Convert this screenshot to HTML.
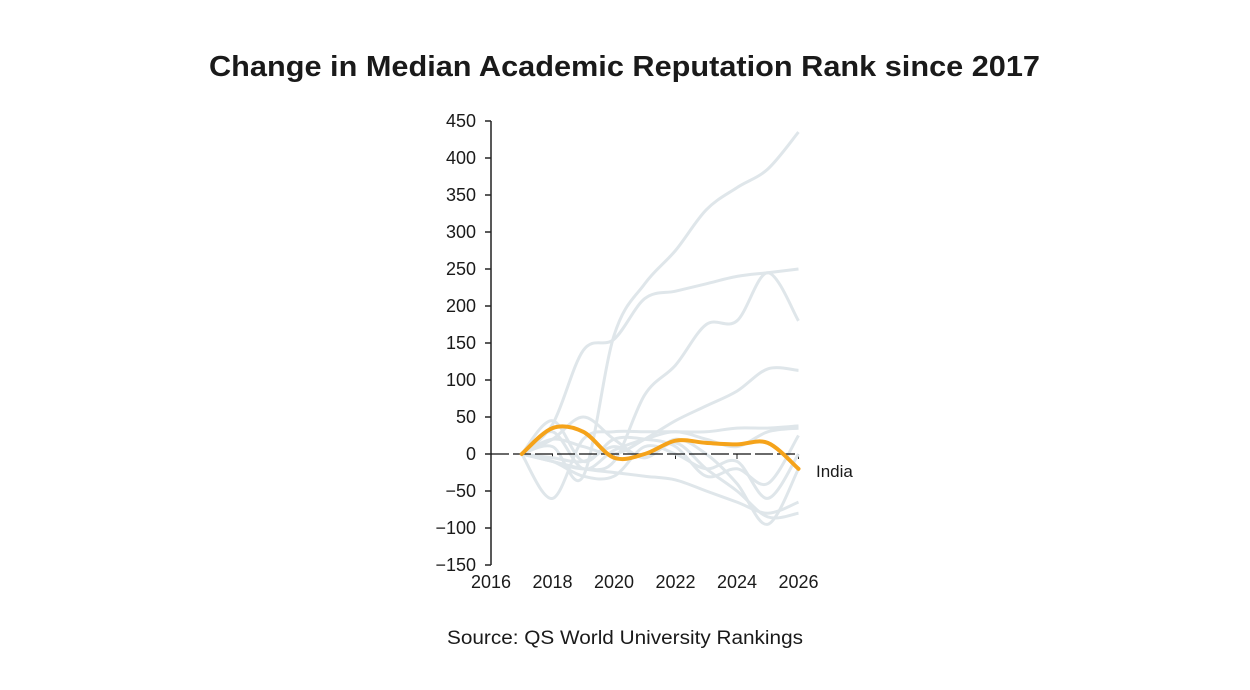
<!DOCTYPE html>
<html><head><meta charset="utf-8"><style>
body{margin:0;background:#fff;}
svg text{font-family:"Liberation Sans",sans-serif;fill:#1a1a1a;}
</style></head><body>
<svg width="1250" height="685">
<text x="209" y="76" textLength="831" lengthAdjust="spacingAndGlyphs" font-size="29" font-weight="bold">Change in Median Academic Reputation Rank since 2017</text>
<g id="axes"></g>
<g id="series"></g>
<text x="447" y="644" textLength="356" lengthAdjust="spacingAndGlyphs" font-size="19">Source: QS World University Rankings</text>
</svg>
<script>
const years=[2017,2018,2019,2020,2021,2022,2023,2024,2025,2026];
const yTicks=[450,400,350,300,250,200,150,100,50,0,-50,-100,-150];
const xTicks=[2016,2018,2020,2022,2024,2026];
const gA=[0,40,140,155,210,220,230,240,245,250];
const gB=[0,10,-30,160,230,275,330,360,385,435];
const gC=[0,-10,-20,-10,80,120,175,180,245,180];
const gD=[0,20,10,0,20,45,65,85,115,113];
const gE=[0,-60,20,30,30,30,30,35,35,38];
const gF=[0,-10,-20,-25,-30,-35,-50,-65,-80,-65];
const gG=[0,45,-10,20,20,10,-30,-20,-40,25];
const gH=[0,20,50,20,-5,20,0,-40,-95,-20];
const gI=[0,-10,-30,-30,10,0,-20,-10,-60,0];
const gJ=[0,30,-20,5,20,30,20,10,30,35];
const gK=[0,-5,-10,10,-5,15,-20,-50,-85,-80];
const india=[0,35,30,-5,0,18,15,13,15,-20];
const greys=[gA,gB,gC,gD,gE,gF,gG,gH,gI,gJ,gK];
const NS='http://www.w3.org/2000/svg';
const X=y=>491+(y-2016)*30.75;
const Y=v=>454-v*0.74;
function mk(t,a,p){const e=document.createElementNS(NS,t);for(const k in a)e.setAttribute(k,a[k]);p.appendChild(e);return e;}
const ax=document.getElementById('axes');
const axl=mk('line',{x1:491,x2:491,y1:Y(450),y2:Y(-150),stroke:'#222','stroke-width':1.5},ax);


yTicks.forEach(v=>{
 const t=mk('line',{x1:485,x2:491,y1:Y(v),y2:Y(v),stroke:'#222','stroke-width':1.5},ax);
 
 
 const l=mk('text',{x:476,y:Y(v)+6,'text-anchor':'end','font-size':18},ax);
 l.textContent=v<0?'\u2212'+(-v):v;
 
 
});
xTicks.forEach(v=>{
 const l=mk('text',{x:X(v),y:588,'text-anchor':'middle','font-size':18},ax);
 l.textContent=v;
 
 
 if(v>2016){const t=mk('line',{x1:X(v),x2:X(v),y1:Y(0),y2:Y(0)+5,stroke:'#222','stroke-width':1},ax);
 
 }
});
const zl=mk('line',{x1:491,x2:X(2026),y1:Y(0),y2:Y(0),stroke:'#111','stroke-width':1.3,'stroke-dasharray':'18 4'},ax);


function path(vals){
 const p=vals.map((v,i)=>[X(years[i]),Y(v)]);
 let d='M'+p[0][0]+','+p[0][1];
 for(let i=0;i<p.length-1;i++){
  const p0=p[i-1]||p[i],p1=p[i],p2=p[i+1],p3=p[i+2]||p2,k=6;
  d+=` C${p1[0]+(p2[0]-p0[0])/k},${p1[1]+(p2[1]-p0[1])/k} ${p2[0]-(p3[0]-p1[0])/k},${p2[1]-(p3[1]-p1[1])/k} ${p2[0]},${p2[1]}`;
 }
 return d;
}
const sg=document.getElementById('series');
greys.forEach(s=>{
 const e=mk('path',{d:path(s),fill:'none',stroke:'#dfe6ea','stroke-width':3},sg);
 
 
});
sg.appendChild(zl);
const ind=mk('path',{d:path(india),fill:'none',stroke:'#f5a31a','stroke-width':4,'stroke-linecap':'round'},sg);


const il=mk('text',{x:816,y:Y(india[india.length-1])+8,'font-size':17},sg);
il.textContent='India';


</script>
</body></html>
